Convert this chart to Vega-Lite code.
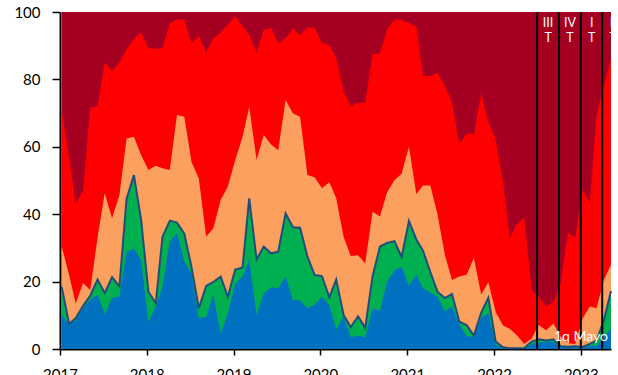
{
  "$schema": "https://vega.github.io/schema/vega-lite/v6.json",
  "width": 551,
  "height": 337,
  "autosize": {"type": "none"},
  "padding": {"left": 60, "top": 12, "right": 7, "bottom": 26},
  "background": "white",
  "config": {
    "view": {"stroke": null},
    "font": "Lato",
    "axis": {"grid": false, "domainColor": "black", "domainWidth": 2, "tickColor": "black", "tickWidth": 1.5, "labelFont": "Lato", "labelFontSize": 15, "labelColor": "black", "title": null}
  },
  "datasets": {
    "serie": [
      {"fecha": "2017-01-08", "azul": 10.1, "verde": 18.5, "naranja": 30.5, "rojo": 71},
      {"fecha": "2017-02-08", "azul": 7.4, "verde": 7.5, "naranja": 22, "rojo": 57},
      {"fecha": "2017-03-08", "azul": 8.4, "verde": 9.1, "naranja": 13.5, "rojo": 43},
      {"fecha": "2017-04-08", "azul": 12.1, "verde": 12.8, "naranja": 19.6, "rojo": 47},
      {"fecha": "2017-05-08", "azul": 14.6, "verde": 15.8, "naranja": 17.5, "rojo": 71.5},
      {"fecha": "2017-06-08", "azul": 16.1, "verde": 20.6, "naranja": 33, "rojo": 72},
      {"fecha": "2017-07-08", "azul": 10.4, "verde": 16.6, "naranja": 46.2, "rojo": 85},
      {"fecha": "2017-08-08", "azul": 15.1, "verde": 21.3, "naranja": 38.8, "rojo": 82.5},
      {"fecha": "2017-09-08", "azul": 15.6, "verde": 18.6, "naranja": 45.7, "rojo": 85},
      {"fecha": "2017-10-08", "azul": 28.6, "verde": 44.5, "naranja": 62.5, "rojo": 89},
      {"fecha": "2017-11-08", "azul": 29.9, "verde": 51.6, "naranja": 63, "rojo": 92},
      {"fecha": "2017-12-08", "azul": 26.4, "verde": 38.5, "naranja": 57.6, "rojo": 94},
      {"fecha": "2018-01-08", "azul": 8.1, "verde": 17, "naranja": 53.1, "rojo": 89.3},
      {"fecha": "2018-02-08", "azul": 12.6, "verde": 13.6, "naranja": 54.4, "rojo": 89},
      {"fecha": "2018-03-08", "azul": 18.5, "verde": 33.3, "naranja": 53.6, "rojo": 89.4},
      {"fecha": "2018-04-08", "azul": 31.9, "verde": 38.1, "naranja": 53.1, "rojo": 96.6},
      {"fecha": "2018-05-08", "azul": 34.5, "verde": 37.5, "naranja": 69.4, "rojo": 97.8},
      {"fecha": "2018-06-08", "azul": 25.9, "verde": 34.2, "naranja": 68.9, "rojo": 97.8},
      {"fecha": "2018-07-08", "azul": 22.5, "verde": 24.4, "naranja": 55.6, "rojo": 90.7},
      {"fecha": "2018-08-08", "azul": 9.1, "verde": 12.1, "naranja": 50.6, "rojo": 92.9},
      {"fecha": "2018-09-08", "azul": 9.6, "verde": 18.7, "naranja": 33.3, "rojo": 88},
      {"fecha": "2018-10-08", "azul": 16.1, "verde": 19.9, "naranja": 35.8, "rojo": 92.2},
      {"fecha": "2018-11-08", "azul": 4.5, "verde": 21.5, "naranja": 44.2, "rojo": 93.9},
      {"fecha": "2018-12-08", "azul": 10.6, "verde": 15.5, "naranja": 48.2, "rojo": 96.3},
      {"fecha": "2019-01-08", "azul": 19.3, "verde": 23.6, "naranja": 56, "rojo": 98.8},
      {"fecha": "2019-02-08", "azul": 21.5, "verde": 24.2, "naranja": 63, "rojo": 95.7},
      {"fecha": "2019-03-08", "azul": 26.6, "verde": 44.7, "naranja": 71.9, "rojo": 93.2},
      {"fecha": "2019-04-08", "azul": 10.1, "verde": 26.6, "naranja": 56.1, "rojo": 88},
      {"fecha": "2019-05-08", "azul": 16.5, "verde": 30.4, "naranja": 63.5, "rojo": 94.7},
      {"fecha": "2019-06-08", "azul": 18.3, "verde": 28.4, "naranja": 60.7, "rojo": 95.3},
      {"fecha": "2019-07-08", "azul": 18, "verde": 28.9, "naranja": 59, "rojo": 90.7},
      {"fecha": "2019-08-08", "azul": 21.5, "verde": 40.2, "naranja": 73.9, "rojo": 92.2},
      {"fecha": "2019-09-08", "azul": 14.5, "verde": 36.1, "naranja": 69.9, "rojo": 95.1},
      {"fecha": "2019-10-08", "azul": 14.5, "verde": 36, "naranja": 68.9, "rojo": 93.2},
      {"fecha": "2019-11-08", "azul": 12.1, "verde": 27.4, "naranja": 51.6, "rojo": 95.4},
      {"fecha": "2019-12-08", "azul": 13.1, "verde": 22, "naranja": 51, "rojo": 95.3},
      {"fecha": "2020-01-08", "azul": 15.5, "verde": 21.6, "naranja": 47.7, "rojo": 90.7},
      {"fecha": "2020-02-08", "azul": 13, "verde": 15.3, "naranja": 49.5, "rojo": 90.2},
      {"fecha": "2020-03-08", "azul": 5.7, "verde": 20.6, "naranja": 44.7, "rojo": 86.3},
      {"fecha": "2020-04-08", "azul": 9.8, "verde": 10.1, "naranja": 33.3, "rojo": 76.4},
      {"fecha": "2020-05-08", "azul": 3.5, "verde": 6.5, "naranja": 27.6, "rojo": 72.1},
      {"fecha": "2020-06-08", "azul": 4, "verde": 9.7, "naranja": 27.8, "rojo": 73.1},
      {"fecha": "2020-07-08", "azul": 3.4, "verde": 6.3, "naranja": 25.4, "rojo": 73.1},
      {"fecha": "2020-08-08", "azul": 12.1, "verde": 21.6, "naranja": 40.8, "rojo": 87.5},
      {"fecha": "2020-09-08", "azul": 11.3, "verde": 30.4, "naranja": 39.3, "rojo": 87.7},
      {"fecha": "2020-10-08", "azul": 20, "verde": 31.5, "naranja": 46.5, "rojo": 94.9},
      {"fecha": "2020-11-08", "azul": 23.3, "verde": 32, "naranja": 50.1, "rojo": 97.8},
      {"fecha": "2020-12-08", "azul": 24.4, "verde": 27.3, "naranja": 52, "rojo": 97.6},
      {"fecha": "2021-01-08", "azul": 18.8, "verde": 38, "naranja": 60, "rojo": 96.7},
      {"fecha": "2021-02-08", "azul": 22, "verde": 32.5, "naranja": 46, "rojo": 95.8},
      {"fecha": "2021-03-08", "azul": 18, "verde": 29.2, "naranja": 48.5, "rojo": 81},
      {"fecha": "2021-04-08", "azul": 16.8, "verde": 22.8, "naranja": 48.5, "rojo": 81},
      {"fecha": "2021-05-08", "azul": 15.5, "verde": 17, "naranja": 40, "rojo": 82},
      {"fecha": "2021-06-08", "azul": 11.1, "verde": 15.1, "naranja": 28, "rojo": 78},
      {"fecha": "2021-07-08", "azul": 12.7, "verde": 16.3, "naranja": 20.5, "rojo": 73.4},
      {"fecha": "2021-08-08", "azul": 7.3, "verde": 8.1, "naranja": 21.5, "rojo": 60.8},
      {"fecha": "2021-09-08", "azul": 3.7, "verde": 7.1, "naranja": 22, "rojo": 64},
      {"fecha": "2021-10-08", "azul": 3.7, "verde": 4, "naranja": 27, "rojo": 63.5},
      {"fecha": "2021-11-08", "azul": 9.3, "verde": 10.8, "naranja": 16.2, "rojo": 75.9},
      {"fecha": "2021-12-08", "azul": 10.6, "verde": 15.2, "naranja": 19.8, "rojo": 67.5},
      {"fecha": "2022-01-08", "azul": 1.2, "verde": 2.2, "naranja": 11, "rojo": 62},
      {"fecha": "2022-02-08", "azul": 0.3, "verde": 0.5, "naranja": 7, "rojo": 49.7},
      {"fecha": "2022-03-08", "azul": 0, "verde": 0.2, "naranja": 6, "rojo": 33},
      {"fecha": "2022-04-08", "azul": 0, "verde": 0.2, "naranja": 4, "rojo": 37},
      {"fecha": "2022-05-08", "azul": 0, "verde": 0.3, "naranja": 1.5, "rojo": 39},
      {"fecha": "2022-06-08", "azul": 1.5, "verde": 2.2, "naranja": 3.1, "rojo": 17.5},
      {"fecha": "2022-07-08", "azul": 2, "verde": 2.9, "naranja": 7.1, "rojo": 15.5},
      {"fecha": "2022-08-08", "azul": 2, "verde": 2.5, "naranja": 5.6, "rojo": 12.6},
      {"fecha": "2022-09-08", "azul": 2.2, "verde": 2.9, "naranja": 7.6, "rojo": 14},
      {"fecha": "2022-10-08", "azul": 0.5, "verde": 0.8, "naranja": 3.6, "rojo": 19.5},
      {"fecha": "2022-11-08", "azul": 0.5, "verde": 0.7, "naranja": 1.7, "rojo": 34.5},
      {"fecha": "2022-12-08", "azul": 0.5, "verde": 0.8, "naranja": 1.5, "rojo": 33},
      {"fecha": "2023-01-08", "azul": 0.3, "verde": 0.6, "naranja": 9, "rojo": 47.2},
      {"fecha": "2023-02-08", "azul": 1, "verde": 1.5, "naranja": 12.6, "rojo": 43.5},
      {"fecha": "2023-03-08", "azul": 1, "verde": 2.5, "naranja": 12.1, "rojo": 69.4},
      {"fecha": "2023-04-08", "azul": 3.5, "verde": 8.5, "naranja": 20.5, "rojo": 78.3},
      {"fecha": "2023-05-08", "azul": 6, "verde": 17.2, "naranja": 25, "rojo": 86.2}
    ],
    "trimestres": [
      {"inicio": "2022-07-01", "etiqueta": "III\nT"},
      {"inicio": "2022-10-01", "etiqueta": "IV\nT"},
      {"inicio": "2023-01-01", "etiqueta": "I\nT"},
      {"inicio": "2023-04-01", "etiqueta": "II\nT"}
    ],
    "nota": [{"fecha": "2023-05-08", "texto": "1q Mayo"}]
  },
  "layer": [
    {
      "data": {"name": "serie"},
      "mark": {"type": "area", "color": "#A50021"},
      "encoding": {
        "x": {"field": "fecha", "type": "temporal", "title": null,
          "scale": {"type": "utc", "domain": [{"year": 2017, "month": "jan", "date": 1, "utc": true}, {"year": 2023, "month": "may", "date": 8, "utc": true}]},
          "axis": {"values": [
            {"year": 2017, "month": "jan", "date": 1, "utc": true},
            {"year": 2018, "month": "jan", "date": 1, "utc": true},
            {"year": 2019, "month": "jan", "date": 1, "utc": true},
            {"year": 2020, "month": "jan", "date": 1, "utc": true},
            {"year": 2021, "month": "jan", "date": 1, "utc": true},
            {"year": 2022, "month": "jan", "date": 1, "utc": true},
            {"year": 2023, "month": "jan", "date": 1, "utc": true}
          ], "format": "%Y", "formatType": "utc", "tickSize": 6, "labelPadding": 12, "labelFlush": false}},
        "y": {"datum": 100, "type": "quantitative", "title": null,
          "scale": {"domain": [0, 100], "nice": false},
          "axis": {"values": [0, 20, 40, 60, 80, 100], "tickSize": 8, "labelPadding": 12}},
        "y2": {"datum": 0}
      }
    },
    {
      "data": {"name": "serie"},
      "mark": {"type": "area", "color": "#FF0000"},
      "encoding": {
        "x": {"field": "fecha", "type": "temporal"},
        "y": {"field": "rojo", "type": "quantitative", "title": null},
        "y2": {"datum": 0}
      }
    },
    {
      "data": {"name": "serie"},
      "mark": {"type": "area", "color": "#FBA05E"},
      "encoding": {
        "x": {"field": "fecha", "type": "temporal"},
        "y": {"field": "naranja", "type": "quantitative", "title": null},
        "y2": {"datum": 0}
      }
    },
    {
      "data": {"name": "serie"},
      "mark": {"type": "area", "color": "#00B050"},
      "encoding": {
        "x": {"field": "fecha", "type": "temporal"},
        "y": {"field": "verde", "type": "quantitative", "title": null},
        "y2": {"datum": 0}
      }
    },
    {
      "data": {"name": "serie"},
      "mark": {"type": "area", "color": "#0070C0"},
      "encoding": {
        "x": {"field": "fecha", "type": "temporal"},
        "y": {"field": "azul", "type": "quantitative", "title": null},
        "y2": {"datum": 0}
      }
    },
    {
      "data": {"name": "serie"},
      "mark": {"type": "line", "color": "#1F4E79", "strokeWidth": 2},
      "encoding": {
        "x": {"field": "fecha", "type": "temporal"},
        "y": {"field": "verde", "type": "quantitative", "title": null}
      }
    },
    {
      "mark": {"type": "rule", "color": "black", "strokeWidth": 3},
      "encoding": {"y": {"datum": 50, "type": "quantitative"}}
    },
    {
      "data": {"name": "trimestres"},
      "mark": {"type": "rule", "color": "black", "strokeWidth": 2},
      "encoding": {"x": {"field": "inicio", "type": "temporal"}}
    },
    {
      "data": {"name": "trimestres"},
      "mark": {"type": "text", "color": "white", "font": "Lato", "fontSize": 12.5, "lineBreak": "\n", "lineHeight": 15, "baseline": "top", "align": "center", "dx": 11, "dy": 5},
      "encoding": {
        "x": {"field": "inicio", "type": "temporal"},
        "y": {"datum": 100, "type": "quantitative"},
        "text": {"field": "etiqueta"}
      }
    },
    {
      "data": {"name": "nota"},
      "mark": {"type": "text", "color": "white", "font": "Lato", "fontSize": 14, "align": "right", "baseline": "alphabetic", "dx": -3, "dy": -8},
      "encoding": {
        "x": {"field": "fecha", "type": "temporal"},
        "y": {"datum": 0, "type": "quantitative"},
        "text": {"field": "texto"}
      }
    }
  ]
}
